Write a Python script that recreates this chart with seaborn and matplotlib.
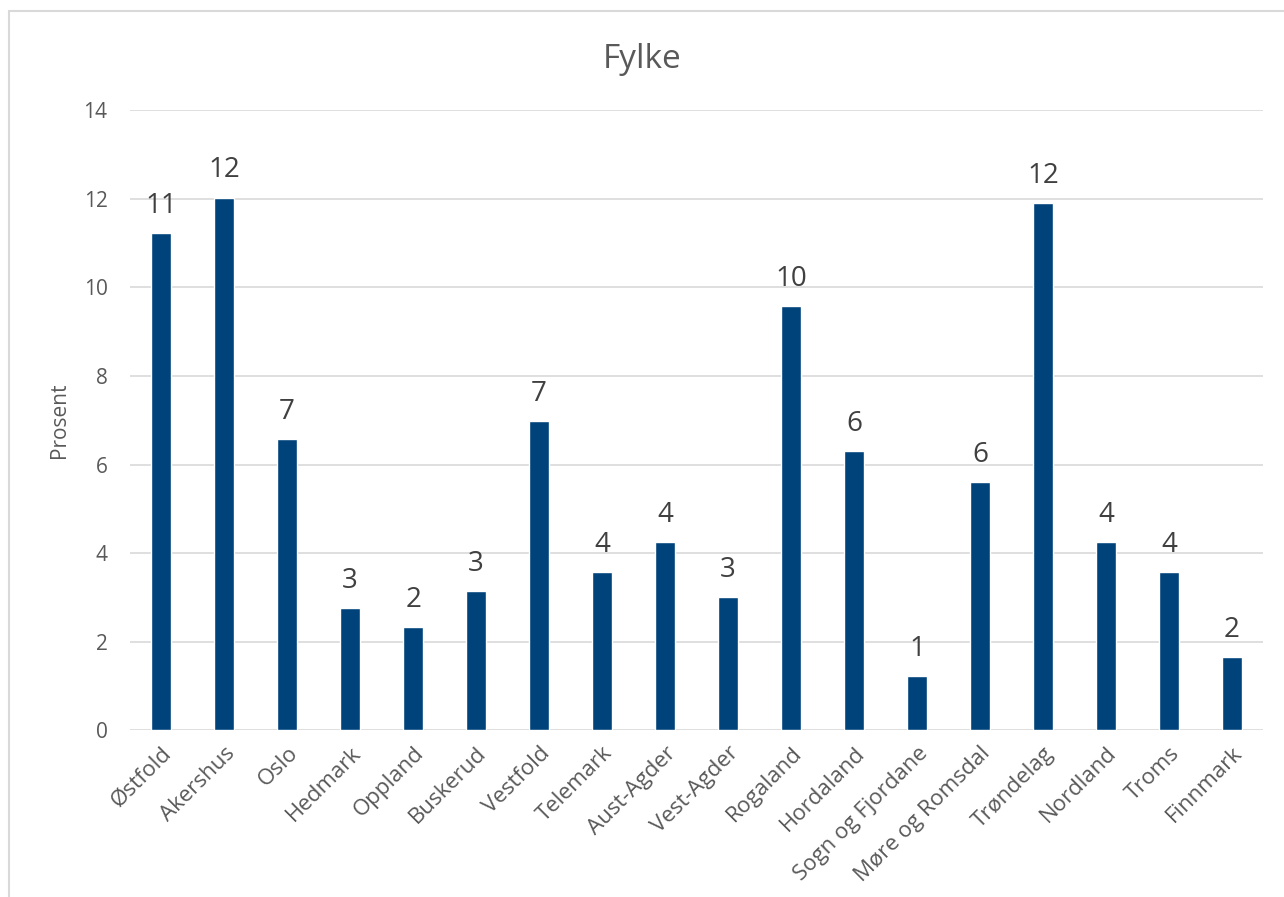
import matplotlib
matplotlib.use("Agg")
import matplotlib.pyplot as plt
import seaborn as sns
import pandas as pd

fylker = ["Østfold", "Akershus", "Oslo", "Hedmark", "Oppland", "Buskerud",
          "Vestfold", "Telemark", "Aust-Agder", "Vest-Agder", "Rogaland",
          "Hordaland", "Sogn og Fjordane", "Møre og Romsdal", "Trøndelag",
          "Nordland", "Troms", "Finnmark"]
prosent = [11.22, 12.03, 6.57, 2.75, 2.33, 3.14, 6.98, 3.57, 4.24, 3.00,
           9.57, 6.30, 1.22, 5.60, 11.90, 4.24, 3.57, 1.65]
yticks = [0, 2, 4, 6, 8, 10, 12, 14]

df = pd.DataFrame({"Fylke": fylker, "Prosent": prosent})

sns.set_theme(style="white")
plt.rcParams["font.family"] = ["Open Sans", "DejaVu Sans"]
text_col = "#595959"

fig = plt.figure(figsize=(12.84, 8.97), dpi=100)
ax = fig.add_axes([0.101, 0.186, 0.883, 0.691])

sns.barplot(data=df, x="Fylke", y="Prosent", color="#00427A", width=0.32,
            saturation=1, ax=ax, zorder=3)

for i, v in enumerate(prosent):
    ax.text(i, v + 0.3, f"{v:.0f}", ha="center", va="bottom",
            fontsize=20, color="#404040")

ax.set_ylim(0, 14)
ax.set_yticks(yticks)
ax.set_xlim(-0.5, len(fylker) - 0.5)
ax.yaxis.grid(True, color="#D9D9D9", linewidth=1.2, zorder=0)
for s in ax.spines.values():
    s.set_visible(False)
ax.tick_params(axis="both", length=0, colors=text_col, labelsize=15)
ax.tick_params(axis="y", pad=16)
ax.tick_params(axis="x", pad=9)
ax.set_xticks(range(len(fylker)))
ax.set_xticklabels(fylker, rotation=45, ha="right", rotation_mode="anchor",
                   color=text_col, fontsize=16)
ax.set_xlabel("")
ax.set_ylabel("Prosent", fontsize=15, color=text_col, labelpad=10)
fig.text(0.5, 0.934, "Fylke", ha="center", va="center", fontsize=24,
         color=text_col)

border = plt.Rectangle((0.007, -0.01), 1.5, 0.998, transform=fig.transFigure,
                       fill=False, edgecolor="#D9D9D9", linewidth=1.5)
fig.patches.append(border)

fig.savefig("out.png", dpi=100)
